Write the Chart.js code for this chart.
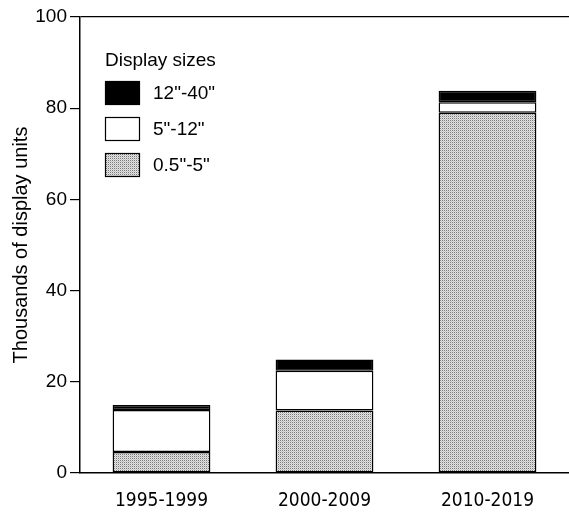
<!DOCTYPE html>
<html>
<head>
<meta charset="utf-8">
<script src="https://cdn.jsdelivr.net/npm/chart.js@4"></script>
<style>
  body { margin: 0; background: #fff; }
  #wrap { width: 569px; height: 512px; }
</style>
</head>
<body>
<div id="wrap"><canvas id="chart"></canvas></div>
<script>
// data (thousands of units)
const periods = ['1995-1999', '2000-2009', '2010-2019'];
const small = [4.6, 13.7, 79.0];   // 0.5"-5"
const medium = [9.2, 8.7, 2.3];    // 5"-12"
const large = [1.1, 2.5, 2.5];     // 12"-40"
const sizeLabels = ['0.5"-5"', '5"-12"', '12"-40"'];
const yTicks = [0, 20, 40, 60, 80, 100];
const legendTitle = 'Display sizes';
const yTitle = 'Thousands of display units';

const sans = '"Liberation Sans", Arial, sans-serif';
const narrow = '"Liberation Sans Narrow", "DejaVu Sans Condensed", Arial, sans-serif';

// stipple pattern for the smallest displays
function dots() {
    const c = document.createElement('canvas');
    c.width = 2; c.height = 2;
    const g = c.getContext('2d');
    g.fillStyle = '#e4e4e4';
    g.fillRect(0, 0, 2, 2);
    g.fillStyle = '#777777';
    g.fillRect(0, 0, 1, 1);
    g.fillStyle = '#c4c4c4';
    g.fillRect(1, 1, 1, 1);
    return g.createPattern(c, 'repeat');
}

const legendBox = {
    id: 'legendBox',
    afterDraw(chart) {
        const ctx = chart.ctx;
        const x = chart.chartArea.left + 25;
        ctx.save();
        ctx.font = '19px ' + sans;
        ctx.fillStyle = '#000';
        ctx.textBaseline = 'middle';
        ctx.fillText(legendTitle, x, 61);
        [2, 1, 0].forEach((d, i) => {
            const ds = chart.data.datasets[d];
            const y = 81 + i * 36;
            ctx.fillStyle = ds.backgroundColor;
            ctx.fillRect(x, y, 35, 24);
            ctx.lineWidth = 1.2;
            ctx.strokeStyle = '#000';
            ctx.strokeRect(x + 0.5, y + 0.5, 34, 23);
            ctx.fillStyle = '#000';
            ctx.fillText(ds.label, x + 48, y + 13);
        });
        ctx.restore();
    }
};

const barStyle = {
    borderColor: '#000',
    borderWidth: 1.5,
    borderSkipped: false,
    barPercentage: 0.6,
    categoryPercentage: 1
};

const info = {
    labels: periods,
    datasets: [
        Object.assign({ label: sizeLabels[0], data: small, backgroundColor: dots() }, barStyle),
        Object.assign({ label: sizeLabels[1], data: medium, backgroundColor: '#ffffff' }, barStyle),
        Object.assign({ label: sizeLabels[2], data: large, backgroundColor: '#000000' }, barStyle)
    ]
};

const options = {
    responsive: true,
    maintainAspectRatio: false,
    animation: false,
    layout: { padding: { top: 17, right: 0, left: 0, bottom: 0 } },
    plugins: {
        legend: { display: false },
        tooltip: { enabled: false }
    },
    scales: {
        x: {
            stacked: true,
            grid: { display: false, drawTicks: false },
            border: { display: true, color: '#000', width: 1.5 },
            ticks: { color: '#000', padding: 17, font: { family: narrow, size: 19 } },
            afterFit: (s) => { s.height = 39; }
        },
        y: {
            stacked: true,
            min: 0,
            max: 100,
            afterBuildTicks: (s) => { s.ticks = yTicks.map((v) => ({ value: v })); },
            grid: {
                drawOnChartArea: true,
                color: (c) => (c.tick && c.tick.value === 100 ? '#000' : 'rgba(0,0,0,0)'),
                tickColor: '#000',
                tickLength: 10,
                lineWidth: 1.2
            },
            border: { display: true, color: '#000', width: 1.5 },
            ticks: { color: '#000', padding: 3, font: { family: sans, size: 19 } },
            title: {
                display: true,
                text: yTitle,
                color: '#000',
                padding: { top: 9, bottom: 0 },
                font: { family: sans, size: 20 }
            },
            afterFit: (s) => { s.width = 80; }
        }
    }
};

new Chart(document.getElementById('chart'), {
    type: 'bar',
    data: info,
    options,
    plugins: [legendBox]
});
</script>
</body>
</html>
